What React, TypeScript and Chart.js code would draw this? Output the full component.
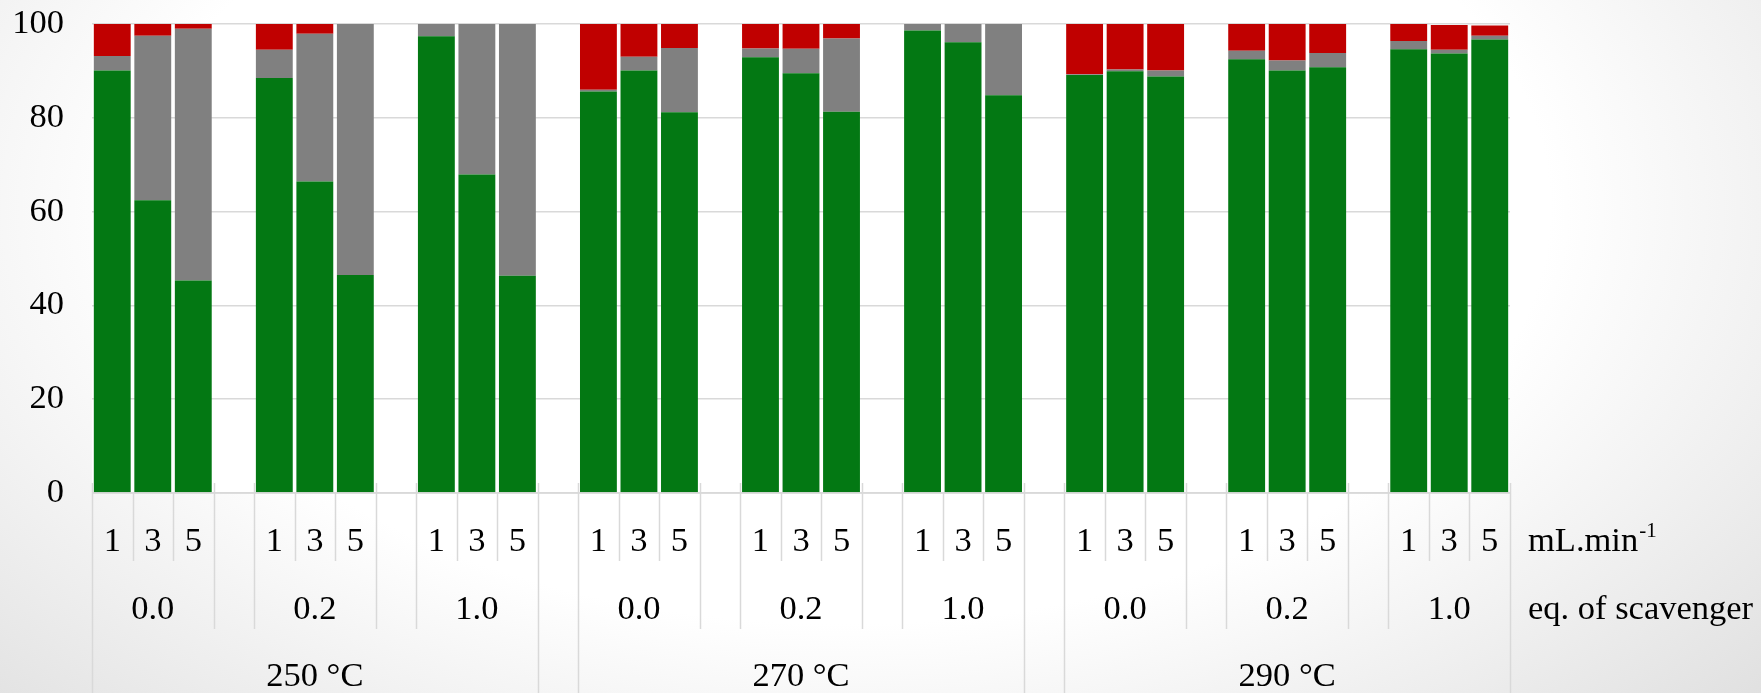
import React, { useEffect, useRef } from "react";
import { Chart, registerables } from "chart.js";

Chart.register(...registerables);

const FLOWS = ["1", "3", "5"];
const SCAVENGER = ["0.0", "0.2", "1.0"];
const TEMPERATURES = ["250 °C", "270 °C", "290 °C"];
const FLOW_UNIT = "mL.min";
const FLOW_UNIT_SUP = "-1";
const SCAVENGER_LABEL = "eq. of scavenger";
const Y_TICKS = [0, 20, 40, 60, 80, 100];

// order: 250 °C (0.0: 1,3,5 | 0.2: 1,3,5 | 1.0: 1,3,5), 270 °C ..., 290 °C ...
const GREEN = [90.1, 62.4, 45.3, 88.5, 66.4, 46.5, 97.4, 67.9, 46.3, 85.6, 90.1, 81.2, 92.9, 89.5, 81.3, 98.6, 96.1, 84.8, 89.1, 89.9, 88.8, 92.5, 90.1, 90.8, 94.6, 93.7, 96.7];
const GREY = [3.1, 35.1, 53.7, 6.0, 31.5, 53.5, 2.6, 32.1, 53.7, 0.4, 2.9, 13.7, 1.9, 5.2, 15.6, 1.4, 3.9, 15.2, 0.2, 0.4, 1.3, 1.8, 2.1, 3.0, 1.8, 0.8, 0.8];
const RED = [6.8, 2.5, 1.0, 5.5, 2.1, 0, 0, 0, 0, 14.0, 7.0, 5.1, 5.2, 5.3, 3.1, 0, 0, 0, 10.7, 9.7, 9.9, 5.7, 7.8, 6.2, 3.6, 5.3, 2.2];

const FONT = '"Liberation Serif", "Times New Roman", serif';
const FONT_SIZE = 34.5;

// slots: each scavenger group = 3 flows + 1 empty slot; last empty slot dropped
const GROUPS = TEMPERATURES.length * SCAVENGER.length;
const SLOT_COUNT = GROUPS * 4 - 1;

function toSlots(values: number[]) {
  const out: (number | null)[] = [];
  for (let g = 0; g < GROUPS; g++) {
    for (let f = 0; f < FLOWS.length; f++) {
      const v = values[g * FLOWS.length + f];
      out.push(v > 0 ? v : null);
    }
    if (g < GROUPS - 1) out.push(null);
  }
  return out;
}

const SLOT_LABELS: string[] = [];
for (let g = 0; g < GROUPS; g++) {
  for (const f of FLOWS) SLOT_LABELS.push(f);
  if (g < GROUPS - 1) SLOT_LABELS.push("");
}

const ROW1_BOTTOM = 561;
const ROW2_BOTTOM = 629;

const axisPlugin = {
  id: "multiAxis",
  beforeDraw(chart: any) {
    const { ctx, chartArea } = chart;
    ctx.save();
    ctx.fillStyle = "#ffffff";
    ctx.fillRect(chartArea.left, chartArea.top, chartArea.right - chartArea.left, chartArea.bottom - chartArea.top);
    ctx.restore();
  },
  afterDatasetsDraw(chart: any) {
    const { ctx, chartArea } = chart;
    const H = chart.height;
    const left = chartArea.left;
    const right = chartArea.right;
    const bottom = chartArea.bottom;
    const slotW = (right - left) / SLOT_COUNT;
    const bx = (i: number) => Math.round(left + i * slotW) + 0.5;
    ctx.save();
    ctx.strokeStyle = "#d9d9d9";
    ctx.lineWidth = 1.5;
    ctx.beginPath();
    ctx.moveTo(left, bottom);
    ctx.lineTo(right, bottom);
    ctx.stroke();
    for (let i = 0; i <= SLOT_COUNT; i++) {
      const isGroup = i % 4 === 0 || i % 4 === 3 || i === SLOT_COUNT;
      const isTemp = i === 0 || i === SLOT_COUNT || i % 12 === 11 || i % 12 === 0;
      const x = bx(i);
      ctx.beginPath();
      ctx.moveTo(x, isGroup ? bottom - 10 : bottom);
      ctx.lineTo(x, ROW1_BOTTOM);
      if (isGroup) ctx.lineTo(x, ROW2_BOTTOM);
      if (isTemp) ctx.lineTo(x, H);
      ctx.stroke();
    }
    ctx.fillStyle = "#000000";
    ctx.font = `${FONT_SIZE}px ${FONT}`;
    ctx.textAlign = "center";
    ctx.textBaseline = "alphabetic";
    for (let i = 0; i < SLOT_COUNT; i++) {
      const lab = SLOT_LABELS[i];
      if (!lab) continue;
      ctx.fillText(lab, left + (i + 0.5) * slotW, 551);
    }
    for (let g = 0; g < GROUPS; g++) {
      const cx = left + (g * 4 + 1.5) * slotW;
      ctx.fillText(SCAVENGER[g % SCAVENGER.length], cx, 619);
    }
    for (let t = 0; t < TEMPERATURES.length; t++) {
      const cx = left + (t * 12 + 5.5) * slotW;
      ctx.fillText(TEMPERATURES[t], cx, 686);
    }
    ctx.textAlign = "left";
    const tx = right + 18;
    ctx.fillText(FLOW_UNIT, tx, 551);
    const w = ctx.measureText(FLOW_UNIT).width;
    ctx.font = `${Math.round(FONT_SIZE * 0.62)}px ${FONT}`;
    ctx.fillText(FLOW_UNIT_SUP, tx + w + 1, 537);
    ctx.font = `${FONT_SIZE}px ${FONT}`;
    ctx.fillText(SCAVENGER_LABEL, tx, 619);
    ctx.restore();
  },
};

export default function App() {
  const ref = useRef<HTMLCanvasElement | null>(null);
  useEffect(() => {
    if (!ref.current) return;
    const chart = new Chart(ref.current, {
      type: "bar",
      data: {
        labels: SLOT_LABELS,
        datasets: [
          { label: "green", data: toSlots(GREEN), backgroundColor: "#037813", borderWidth: 0 },
          { label: "grey", data: toSlots(GREY), backgroundColor: "#808080", borderWidth: 0 },
          { label: "red", data: toSlots(RED), backgroundColor: "#c00000", borderWidth: 0 },
        ],
      },
      options: {
        animation: false,
        responsive: false,
        maintainAspectRatio: false,
        layout: { padding: { top: 24, right: 251, left: 0, bottom: 0 } },
        plugins: { legend: { display: false }, tooltip: { enabled: false } },
        datasets: { bar: { barPercentage: 0.91, categoryPercentage: 1 } },
        scales: {
          x: {
            stacked: true,
            ticks: { display: false },
            grid: { display: false },
            border: { display: false },
            afterFit: (s: any) => { s.height = 200; s.paddingLeft = 0; s.paddingRight = 0; },
          },
          y: {
            stacked: true,
            min: 0,
            max: 100,
            afterBuildTicks: (s: any) => { s.ticks = Y_TICKS.map((v) => ({ value: v })); },
            ticks: { color: "#000000", padding: 28, font: { family: FONT, size: FONT_SIZE } },
            grid: { color: "#d9d9d9", lineWidth: 1.5, drawTicks: false },
            border: { display: false },
            afterFit: (s: any) => { s.width = 92; s.paddingTop = 0; s.paddingBottom = 0; },
          },
        },
      },
      plugins: [axisPlugin],
    });
    return () => chart.destroy();
  }, []);
  return (
    <div
      style={{
        position: "fixed",
        left: 0,
        top: 0,
        width: 1761,
        height: 693,
        background: "radial-gradient(ellipse 80% 120% at 48% 30%, #ffffff 50%, #d6d6d6 100%)",
      }}
    >
      <canvas ref={ref} width={1761} height={693} style={{ display: "block" }} />
    </div>
  );
}
